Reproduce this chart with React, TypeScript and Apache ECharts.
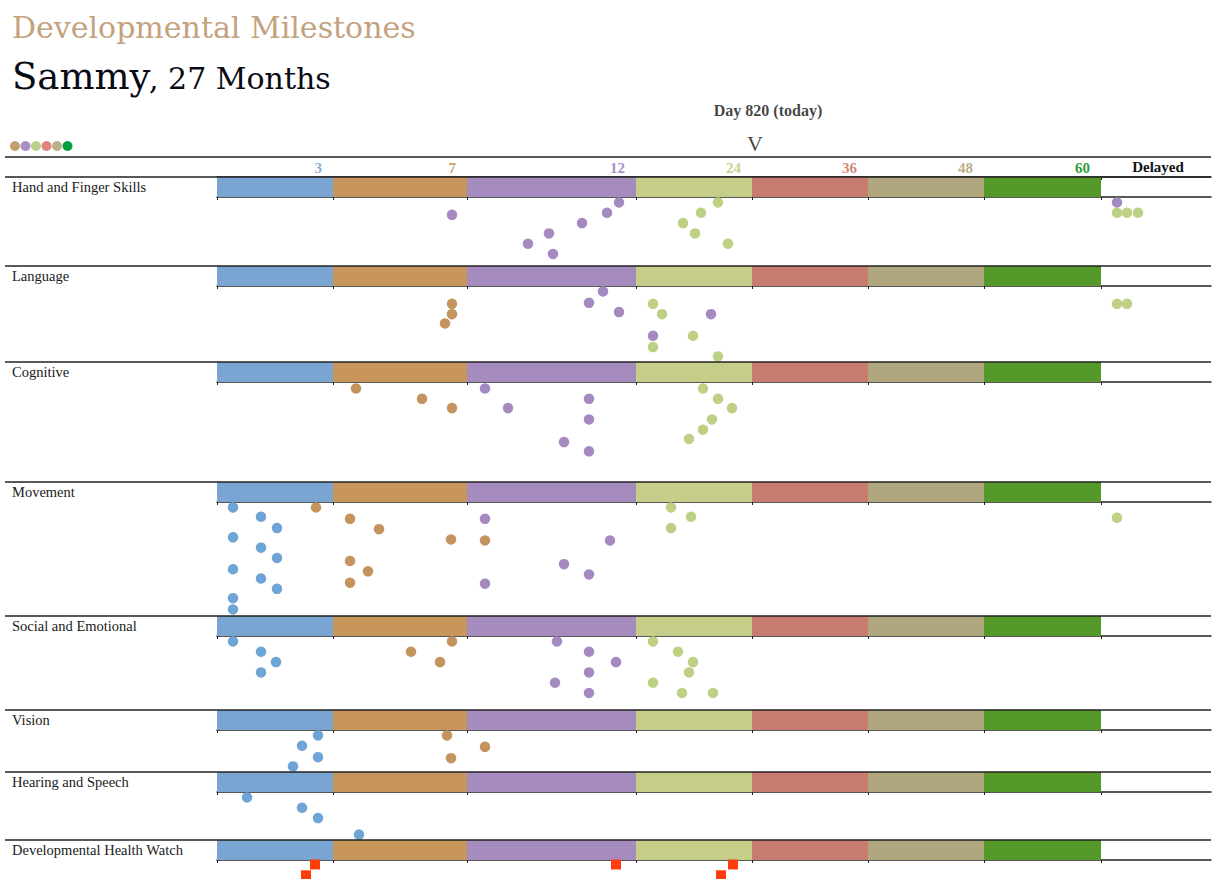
import React, { useEffect, useRef } from "react";
import * as echarts from "echarts";

// ---------- data ----------
const ROWS = [
  "Hand and Finger Skills",
  "Language",
  "Cognitive",
  "Movement",
  "Social and Emotional",
  "Vision",
  "Hearing and Speech",
  "Developmental Health Watch",
];
const BAND_LABELS = ["3", "7", "12", "24", "36", "48", "60"];
const BAND_WIDTHS = [116, 134, 169, 116, 116, 116, 117];
const DELAYED_WIDTH = 110;
const TODAY_X = 538;
const TODAY_TEXT = "Day 820 (today)";

// dots: [position on age axis, stacking level]
const HAND_PURPLE = [[235, 2.2], [402, 1], [390, 2], [365, 3], [332, 4], [311, 5], [336, 6], [900, 1]];
const HAND_GREEN = [[501, 1], [484, 2], [466, 3], [478, 4], [511, 5], [900, 2], [910, 2], [921, 2]];

const LANG_BROWN = [[235, 2.2], [235, 3.2], [228, 4.1]];
const LANG_PURPLE = [[386, 1], [372, 2.1], [402, 3], [494, 3.2], [436, 5.3]];
const LANG_GREEN = [[436, 2.2], [445, 3.2], [476, 5.3], [436, 6.4], [501, 7.3], [900, 2.2], [910, 2.2]];

const COG_BROWN = [[139, 1.1], [205, 2.1], [235, 3]];
const COG_PURPLE = [[268, 1.1], [291, 3], [372, 2.1], [372, 4.1], [347, 6.3], [372, 7.2]];
const COG_GREEN = [[486, 1.1], [501, 2.1], [515, 3], [495, 4.1], [486, 5.1], [472, 6]];

const MOVE_BLUE = [[16, 1], [44, 1.9], [60, 3], [16, 3.9], [44, 4.9], [60, 5.9], [16, 7], [44, 7.9], [60, 8.9], [16, 9.8], [16, 10.9]];
const MOVE_BROWN = [[99, 1], [133, 2.1], [162, 3.1], [234, 4.1], [268, 4.2], [133, 6.2], [151, 7.2], [133, 8.3]];
const MOVE_PURPLE = [[268, 2.1], [393, 4.2], [347, 6.5], [372, 7.5], [268, 8.4]];
const MOVE_GREEN = [[454, 1], [474, 1.9], [454, 3], [900, 2]];

const SOC_BLUE = [[16, 1], [44, 2], [59, 3], [44, 4]];
const SOC_BROWN = [[235, 1], [194, 2], [223, 3]];
const SOC_PURPLE = [[340, 1], [372, 2], [399, 3], [372, 4], [338, 5], [372, 6]];
const SOC_GREEN = [[436, 1], [461, 2], [476, 3], [472, 4], [436, 5], [465, 6], [496, 6]];

const VIS_BLUE = [[101, 1], [85, 2], [101, 3.1], [76, 4]];
const VIS_BROWN = [[230, 1], [268, 2.1], [234, 3.2]];

const HEAR_BLUE = [[30, 1], [85, 2], [101, 3], [142, 4.6]];

const WATCH_RED = [[98, 0.9], [89, 1.95], [399, 0.9], [516, 0.9], [504, 1.95]];

const ROW_DOTS: Record<string, number[][]>[] = [
  { purple: HAND_PURPLE, green: HAND_GREEN },
  { brown: LANG_BROWN, purple: LANG_PURPLE, green: LANG_GREEN },
  { brown: COG_BROWN, purple: COG_PURPLE, green: COG_GREEN },
  { blue: MOVE_BLUE, brown: MOVE_BROWN, purple: MOVE_PURPLE, green: MOVE_GREEN },
  { blue: SOC_BLUE, brown: SOC_BROWN, purple: SOC_PURPLE, green: SOC_GREEN },
  { blue: VIS_BLUE, brown: VIS_BROWN },
  { blue: HEAR_BLUE },
  { red: WATCH_RED },
];

// ---------- styles / layout ----------
const BAR_COLORS = ["#7aa4d2", "#c8955b", "#a68cbe", "#c5cd88", "#c87c6f", "#b1a77e", "#55992b"];
const LABEL_COLORS = ["#8cb0d8", "#c9a070", "#a892c6", "#c8d292", "#d68a7c", "#b9af88", "#2f9d40"];
const DOT_COLORS: Record<string, string> = {
  blue: "#6fa4d6",
  brown: "#c4945e",
  purple: "#a58ac1",
  green: "#bdd084",
  red: "#ff3c0c",
};
const LEGEND_COLORS = ["#c4a070", "#a98fc5", "#bdd08b", "#e0847a", "#b8b08a", "#00a040"];

const FONT = "Liberation Serif";
const GRID_LEFT = 217;
const GRID_WIDTH = 994;
const HEADER_TOP = 157;
const ROW_TOPS = [177, 266, 362, 482, 616, 710, 772, 840];
const PAGE_BOTTOM = 879;
const BAR_H = 20;
const LEVEL_PX = 10.3;
const FIRST_OFFSET = 5.5;
const LINE = "#222";

function buildOption() {
  const bounds: number[] = [0];
  BAND_WIDTHS.forEach((w) => bounds.push(bounds[bounds.length - 1] + w));
  const bandEnds = bounds.slice(1);
  const axisMax = bounds[bounds.length - 1] + DELAYED_WIDTH;

  const grid: any[] = [];
  const xAxis: any[] = [];
  const yAxis: any[] = [];
  const series: any[] = [];

  const rich: any = {};
  LABEL_COLORS.forEach((c, i) => {
    rich["c" + i] = { color: c, fontSize: 15, fontWeight: "bold", fontFamily: FONT };
  });

  // header grid
  grid.push({ left: GRID_LEFT, top: HEADER_TOP, width: GRID_WIDTH, height: BAR_H });
  xAxis.push({
    gridIndex: 0,
    type: "value",
    min: 0,
    max: axisMax,
    position: "top",
    axisLine: { show: true, lineStyle: { color: LINE, width: 1.5 } },
    axisTick: { show: true, inside: true, length: 3, customValues: bounds, lineStyle: { color: LINE } },
    axisLabel: {
      show: true,
      inside: true,
      customValues: bandEnds,
      margin: 3,
      align: "right",
      padding: [0, 11, 0, 0],
      formatter: (v: number) => {
        const i = bandEnds.indexOf(Math.round(v));
        return i >= 0 ? `{c${i}|${BAND_LABELS[i]}}` : "";
      },
      rich,
    },
    splitLine: { show: false },
  });
  yAxis.push({ gridIndex: 0, type: "value", min: 0, max: 1, show: false });
  series.push({
    type: "scatter",
    xAxisIndex: 0,
    yAxisIndex: 0,
    data: [[TODAY_X, 1]],
    symbolSize: 0,
    itemStyle: { color: "rgba(0,0,0,0)" },
    silent: true,
    label: { show: true, position: "top", distance: 3, formatter: "V", fontSize: 22, fontFamily: FONT, color: "#111" },
  });
  series.push({
    type: "scatter",
    xAxisIndex: 0,
    yAxisIndex: 0,
    data: [[TODAY_X, 1]],
    symbolSize: 0,
    itemStyle: { color: "rgba(0,0,0,0)" },
    silent: true,
    label: {
      show: true,
      position: "top",
      distance: 39,
      offset: [13, 0],
      formatter: TODAY_TEXT,
      fontSize: 16,
      fontWeight: "bold",
      fontFamily: FONT,
      color: "#111",
    },
  });

  // bar grids
  ROWS.forEach((name, r) => {
    const gi = grid.length;
    grid.push({ left: GRID_LEFT, top: ROW_TOPS[r], width: GRID_WIDTH, height: BAR_H });
    xAxis.push({
      gridIndex: gi,
      type: "value",
      min: 0,
      max: axisMax,
      position: "bottom",
      axisLine: { show: true, lineStyle: { color: LINE, width: 1.5 } },
      axisTick: { show: true, length: 3, customValues: bounds, lineStyle: { color: LINE } },
      axisLabel: { show: false },
      splitLine: { show: false },
    });
    yAxis.push({
      gridIndex: gi,
      type: "category",
      data: [name],
      axisLine: { show: false },
      axisTick: { show: false },
      axisLabel: { align: "left", margin: GRID_LEFT - 12, fontSize: 14.5, fontFamily: FONT, color: "#1a1a1a" },
    });
    BAND_WIDTHS.forEach((w, j) => {
      series.push({
        type: "bar",
        xAxisIndex: gi,
        yAxisIndex: gi,
        stack: "row" + r,
        data: [w],
        barWidth: "100%",
        silent: true,
        itemStyle: { color: BAR_COLORS[j] },
      });
    });
  });

  // dot grids
  const yMin = 1 - FIRST_OFFSET / LEVEL_PX;
  ROWS.forEach((_, r) => {
    const gi = grid.length;
    const top = ROW_TOPS[r] + BAR_H;
    const next = r + 1 < ROW_TOPS.length ? ROW_TOPS[r + 1] : PAGE_BOTTOM;
    const h = next - top;
    grid.push({ left: GRID_LEFT, top, width: GRID_WIDTH, height: h });
    xAxis.push({ gridIndex: gi, type: "value", min: 0, max: axisMax, show: false });
    yAxis.push({ gridIndex: gi, type: "value", inverse: true, min: yMin, max: yMin + h / LEVEL_PX, show: false });
    const groups = ROW_DOTS[r];
    Object.keys(groups).forEach((key) => {
      series.push({
        type: "scatter",
        xAxisIndex: gi,
        yAxisIndex: gi,
        data: groups[key],
        symbol: key === "red" ? "rect" : "circle",
        symbolSize: key === "red" ? 10 : 10.5,
        clip: false,
        silent: true,
        itemStyle: { color: DOT_COLORS[key], opacity: 1 },
      });
    });
  });

  const graphic: any[] = [];
  // horizontal separator lines spanning full width
  [HEADER_TOP, ...ROW_TOPS].forEach((y) => {
    graphic.push({
      type: "line",
      z: 100,
      shape: { x1: 5, y1: y, x2: GRID_LEFT + GRID_WIDTH, y2: y },
      style: { stroke: LINE, lineWidth: 1.5 },
      silent: true,
    });
  });
  graphic.push({
    type: "text",
    x: 12,
    y: 27,
    style: { text: "Developmental Milestones", fontFamily: "DejaVu Serif", fontSize: 30, fill: "#c4a27e", align: "left", verticalAlign: "middle" },
  });
  graphic.push({
    type: "text",
    x: 12,
    y: 76,
    style: { text: "Sammy", fontFamily: "DejaVu Serif", fontSize: 37, fill: "#0a0a14", align: "left", verticalAlign: "middle" },
  });
  graphic.push({
    type: "text",
    x: 149,
    y: 78,
    style: { text: ", 27 Months", fontFamily: "DejaVu Serif", fontSize: 30, fill: "#0a0a14", align: "left", verticalAlign: "middle" },
  });
  LEGEND_COLORS.forEach((c, i) => {
    graphic.push({ type: "circle", shape: { cx: 15 + i * 10.5, cy: 146, r: 5 }, style: { fill: c }, silent: true });
  });
  graphic.push({
    type: "text",
    x: 1158,
    y: 167,
    style: { text: "Delayed", fontFamily: FONT, fontSize: 15, fontWeight: "bold", fill: "#111", align: "center", verticalAlign: "middle" },
  });

  return {
    animation: false,
    backgroundColor: "#ffffff",
    textStyle: { fontFamily: FONT },
    grid,
    xAxis,
    yAxis,
    series,
    graphic,
  };
}

export default function App() {
  const ref = useRef<HTMLDivElement>(null);
  useEffect(() => {
    const chart = echarts.init(ref.current!, null, { renderer: "svg" });
    chart.setOption(buildOption());
    return () => chart.dispose();
  }, []);
  return (
    <div
      ref={ref}
      style={{ position: "fixed", left: 0, top: 0, width: 1216, height: 879, background: "#fff" }}
    />
  );
}
